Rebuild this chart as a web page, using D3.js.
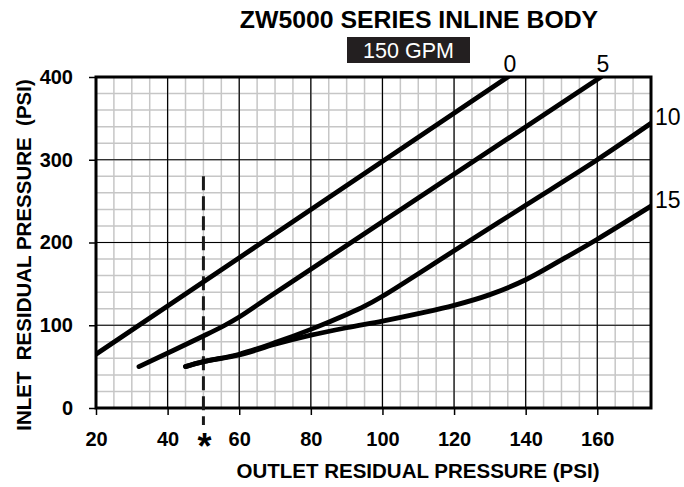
<!DOCTYPE html>
<html>
<head>
<meta charset="utf-8">
<script src="https://cdn.jsdelivr.net/npm/d3@7"></script>
<style>
body { margin: 0; background: #fff; }
svg { display: block; font-family: "Liberation Sans", Arial, Helvetica, sans-serif; }
</style>
</head>
<body>
<div id="chart"></div>
<script>
// values
const title = "ZW5000 SERIES INLINE BODY";
const flowLabel = "150 GPM";
const xTicks = [20, 40, 60, 80, 100, 120, 140, 160];
const yTicks = [0, 100, 200, 300, 400];
const curveNames = ["0", "5", "10", "15"];
const curve0 = [[20, 65], [135, 400]];
const curve5 = [[32, 50], [50, 87], [56, 100], [60, 110], [70, 139], [161, 400]];
const curve10 = [[45, 50], [50, 56], [60, 65], [70, 79], [80, 95], [90, 113], [95, 123], [100, 135], [120, 190], [140, 245], [160, 300], [175, 344]];
const curve15 = [[45, 50], [50, 56], [60, 64], [70, 77], [80, 88], [90, 97], [100, 105], [110, 114], [120, 124], [130, 137], [140, 155], [150, 179], [160, 204], [175, 244]];
const markerX = 50;      // dashed reference line
const markerTop = 280;

const curves = [curve0, curve5, curve10, curve15];

const width = 684;
const height = 487;
const margin = { top: 77, right: 33, bottom: 79, left: 96 };

const x = d3.scaleLinear().domain([20, 175]).range([margin.left, width - margin.right]);
const y = d3.scaleLinear().domain([0, 400]).range([height - margin.bottom, margin.top]);

const svg = d3.select("#chart").append("svg")
    .attr("width", width)
    .attr("height", height);

svg.append("clipPath")
    .attr("id", "plot-clip")
    .append("rect")
    .attr("x", x(20))
    .attr("y", y(400))
    .attr("width", x(175) - x(20))
    .attr("height", y(0) - y(400));

// minor grid
const grid = svg.append("g");
grid.selectAll(".vminor")
    .data(d3.range(25, 175, 5))
    .join("line")
    .attr("x1", d => x(d)).attr("x2", d => x(d))
    .attr("y1", y(0)).attr("y2", y(400))
    .attr("stroke", "#c6c6c6")
    .attr("stroke-width", 1.5);
grid.selectAll(".hminor")
    .data(d3.range(20, 400, 20))
    .join("line")
    .attr("x1", x(20)).attr("x2", x(175))
    .attr("y1", d => y(d)).attr("y2", d => y(d))
    .attr("stroke", "#c6c6c6")
    .attr("stroke-width", 1.5);

// major grid
grid.selectAll(".vmajor")
    .data(xTicks.slice(1))
    .join("line")
    .attr("x1", d => x(d)).attr("x2", d => x(d))
    .attr("y1", y(0)).attr("y2", y(400))
    .attr("stroke", "#000")
    .attr("stroke-width", 1.2);
grid.selectAll(".hmajor")
    .data(yTicks.slice(1, -1))
    .join("line")
    .attr("x1", x(20)).attr("x2", x(175))
    .attr("y1", d => y(d)).attr("y2", d => y(d))
    .attr("stroke", "#000")
    .attr("stroke-width", 1.2);

// axes
const xAxis = svg.append("g")
    .attr("transform", `translate(0,${y(0)})`)
    .call(d3.axisBottom(x).tickValues(xTicks).tickSize(7).tickPadding(17).tickSizeOuter(0));
const yAxis = svg.append("g")
    .attr("transform", `translate(${x(20)},0)`)
    .call(d3.axisLeft(y).tickValues(yTicks).tickSize(7).tickPadding(16).tickSizeOuter(0));

[xAxis, yAxis].forEach(g => {
    g.select(".domain").remove();
    g.selectAll(".tick line").attr("stroke", "#000").attr("stroke-width", 1.5);
    g.selectAll(".tick text")
        .attr("fill", "#000")
        .attr("font-size", 20)
        .attr("font-weight", "bold")
        .attr("font-family", "'Liberation Sans', Arial, sans-serif");
});

// frame
svg.append("rect")
    .attr("x", x(20))
    .attr("y", y(400))
    .attr("width", x(175) - x(20))
    .attr("height", y(0) - y(400))
    .attr("fill", "none")
    .attr("stroke", "#000")
    .attr("stroke-width", 3);

// dashed marker line
svg.append("line")
    .attr("x1", x(markerX)).attr("x2", x(markerX))
    .attr("y1", y(markerTop)).attr("y2", y(0) + 17)
    .attr("stroke", "#1a1a1a")
    .attr("stroke-width", 3)
    .attr("stroke-dasharray", "14,6");

svg.append("text")
    .attr("x", x(markerX) + 1)
    .attr("y", 459)
    .attr("text-anchor", "middle")
    .attr("font-size", 36)
    .attr("font-weight", "bold")
    .text("*");

// pressure curves
const line = d3.line()
    .x(d => x(d[0]))
    .y(d => y(d[1]))
    .curve(d3.curveCatmullRom.alpha(0.5));

svg.append("g")
    .attr("clip-path", "url(#plot-clip)")
    .selectAll("path")
    .data(curves)
    .join("path")
    .attr("d", line)
    .attr("fill", "none")
    .attr("stroke", "#000")
    .attr("stroke-width", 4.8)
    .attr("stroke-linecap", "round");

// curve labels at line ends
svg.selectAll(".curve-label")
    .data(curves)
    .join("text")
    .attr("class", "curve-label")
    .attr("x", d => {
        const end = d[d.length - 1];
        return end[1] >= 400 ? x(end[0]) + 2 : x(175) + 4;
    })
    .attr("y", d => {
        const end = d[d.length - 1];
        return end[1] >= 400 ? y(400) - 5 : y(end[1]) + 2;
    })
    .attr("text-anchor", d => d[d.length - 1][1] >= 400 ? "middle" : "start")
    .attr("font-size", 23)
    .text((d, i) => curveNames[i]);

// titles
svg.append("text")
    .attr("x", 419)
    .attr("y", 28)
    .attr("text-anchor", "middle")
    .attr("font-size", 24.8)
    .attr("font-weight", "bold")
    .text(title);

svg.append("rect")
    .attr("x", 347)
    .attr("y", 37)
    .attr("width", 123)
    .attr("height", 26)
    .attr("fill", "#231f20");
svg.append("text")
    .attr("x", 408.5)
    .attr("y", 58)
    .attr("text-anchor", "middle")
    .attr("font-size", 21.5)
    .attr("fill", "#fff")
    .text(flowLabel);

svg.append("text")
    .attr("x", 418)
    .attr("y", 478)
    .attr("text-anchor", "middle")
    .attr("font-size", 20.5)
    .attr("font-weight", "bold")
    .text("OUTLET RESIDUAL PRESSURE (PSI)");

svg.append("text")
    .attr("transform", "translate(31,255) rotate(-90)")
    .attr("text-anchor", "middle")
    .attr("font-size", 20.5)
    .attr("font-weight", "bold")
    .style("white-space", "pre")
    .text("INLET  RESIDUAL PRESSURE  (PSI)");
</script>
</body>
</html>
